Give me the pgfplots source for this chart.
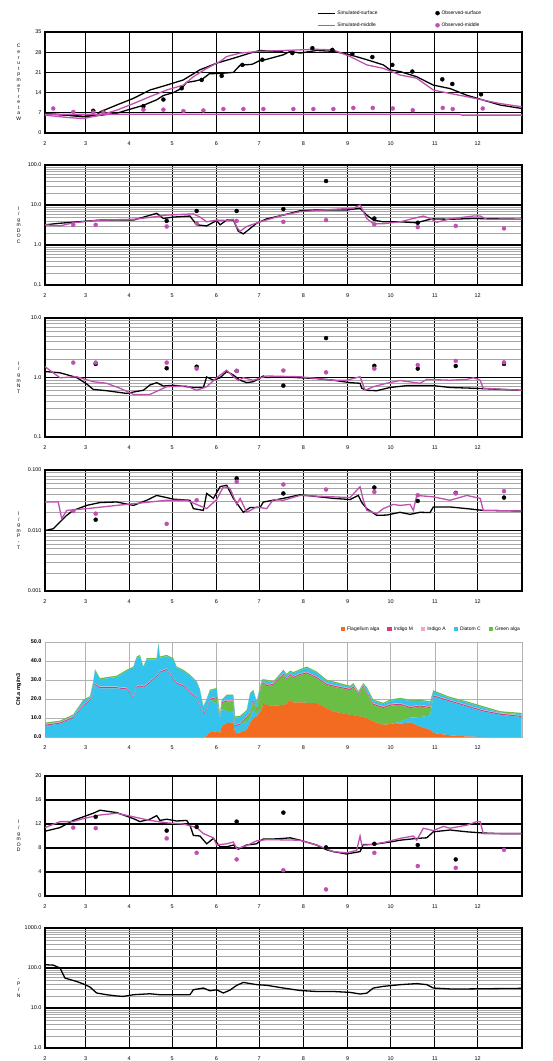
\documentclass[border=0pt]{standalone}
\usepackage{pgfplots}
\pgfplotsset{compat=1.18}
\usepackage{pgfplotstable}
\usepackage{fontspec}
\setmainfont{Liberation Sans}
\definecolor{mag}{HTML}{C050B0}
\definecolor{orC}{HTML}{F26B21}
\definecolor{cyC}{HTML}{33C3EC}
\definecolor{grC}{HTML}{6BBE45}
\definecolor{imC}{HTML}{D23C82}
\definecolor{iaC}{HTML}{F4A6C8}

\pgfplotstableread{
x O CL GL M A CU G
0 0 5.9 0 0.6 0.3 0.1 0.7
10.5 0 7.0 0 0.6 0.3 0.0 0.7
19.8 0 9.9 0 0.6 0.3 0.4 0.7
26.8 0 16.0 0 0.6 0.3 2.1 0.7
31.5 0 19.0 0 0.6 0.3 0.9 0.7
33.8 0 22.0 0 0.6 0.3 5.7 0.7
35.0 0 27.4 0 0.6 0.3 6.7 0.7
38.5 0 25.6 0 0.6 0.3 3.8 0.7
50.2 0 25.6 0 0.6 0.3 5.1 0.7
57.2 0 25.0 0 0.6 0.3 8.8 0.7
61.9 0 20.4 0 0.6 0.3 15.1 0.7
64.2 0 26.0 0 0.6 0.3 14.8 0.7
66.5 0 26.5 0 0.6 0.3 15.1 0.7
68.9 0 26.0 0 0.6 0.3 9.5 0.7
71.2 0 27.0 0 0.6 0.3 12.9 0.7
78.2 0 31.7 0 0.6 0.3 8.2 0.7
79.4 0 32.5 0 0.6 0.3 15.2 0.7
80.5 0 33.8 0 0.6 0.3 7.0 0.7
85.2 0 35.2 0 0.6 0.3 6.4 0.7
89.9 0 30.0 0 0.6 0.3 9.9 0.7
92.2 0 28.0 0 0.6 0.3 7.5 0.7
96.9 0 26.5 0 0.6 0.3 7.3 0.7
101.6 0 23.0 0 0.6 0.3 8.2 0.7
106.2 0 20.4 0 0.6 0.3 7.3 0.7
108.5 0 16.0 0 0.6 0.3 7.6 0.7
110.9 0 12.0 0 0.6 0.3 2.6 0.7
113.2 0.5 13.5 0 0.6 0.3 4.6 0.7
115.5 2.5 17.0 0 0.6 0.3 3.8 0.7
120.2 3.0 14.4 3.0 0.6 0.3 3.8 0.7
122.6 2.1 7.8 0 0.6 0.3 0.4 0.7
123.7 5.6 9.2 3.0 0.6 0.3 0.3 0.7
127.2 7.3 6.3 5.0 0.6 0.3 2.1 0.7
131.9 7.7 6.0 4.9 0.6 0.3 2.1 0.7
133.1 2.1 3.5 0 0.6 0.3 3.8 0.7
136.6 2.4 4.0 0 0.6 0.3 3.2 0.7
141.2 3.8 4.2 2.0 0.6 0.3 2.6 0.7
143.6 7.3 2.2 3.0 0.6 0.3 9.1 0.7
145.9 9.9 4.7 4.0 0.6 0.3 4.7 0.7
148.2 10.8 1.5 2.0 0.6 0.3 2.9 0.7
151.7 14.3 0 13.9 0.6 0.3 0.4 0.7
152.9 17.8 0 10.2 0.6 0.3 0.8 0.7
155.2 16.9 0 9.9 0.6 0.3 1.8 0.7
159.9 16.4 0 11.0 0.6 0.3 0.3 0.7
166.9 16.9 0 15.7 0.6 0.3 1.2 0.7
169.3 17.5 0 12.5 0.6 0.3 1.6 0.7
171.6 19.5 0 13.1 0.6 0.3 0.8 0.7
173.9 18.0 0 13.0 0.6 0.3 1.6 0.7
178.6 18.3 0 14.3 0.6 0.3 1.5 0.7
183.3 18.0 0 15.4 0.6 0.3 2.1 0.7
190.2 17.8 0 13.2 0.6 0.3 1.9 0.7
197.2 15.2 0 12.2 0.6 0.3 1.2 0.7
201.9 13.4 0 13.1 0.6 0.3 1.2 0.7
213.6 11.7 0 13.0 0.6 0.3 0.7 0.7
215.9 11.5 0 14.5 0.6 0.3 0.8 0.7
219.4 11.0 0 11.1 0.6 0.3 0.4 0.7
222.9 10.5 0 16.0 0.6 0.3 0.3 0.7
225.3 9.9 0 13.1 0.6 0.3 1.7 0.7
229.9 8.2 0 8.7 0.6 0.3 1.2 0.7
236.9 6.4 0 8.8 0.6 0.3 1.2 0.7
241.6 6.8 0 9.7 0.6 0.3 1.6 0.7
248.6 7.0 1.0 8.9 0.6 0.3 2.1 0.7
255.6 7.7 2.5 5.0 0.6 0.3 2.9 0.7
262.6 5.5 5.0 5.5 0.6 0.3 2.1 0.7
269.6 3.8 7.5 3.9 0.6 0.3 2.0 0.7
271.9 2.1 19.2 0 0.6 0.3 1.7 0.7
283.6 0.9 17.7 0 0.6 0.3 0.9 0.7
295.3 0.3 15.7 0 0.6 0.3 1.2 0.7
306.9 0 13.4 0 0.6 0.3 1.2 0.7
318.6 0 11.7 0 0.6 0.3 0.3 0.7
333.8 0 10.5 0 0.6 0.3 0.6 0.7
}\chl

\pgfplotsset{
  base/.style={
    scale only axis, width=477bp,
    xmin=0, xmax=334,
    xtick={0,28.4,59,89,120,150,181,212,242,273,303},
    xticklabels={2,3,4,5,6,7,8,9,10,11,12},
    tick label style={font=\fontsize{5.5}{6}\selectfont},
    xticklabel style={yshift=-5bp},
    tick style={draw=none},
    axis line style={black, line width=1.2bp},
    grid=major,
    major grid style={black, line width=1.1bp},
    minor grid style={gray!70, line width=0.6bp},
    ylabel style={at={(axis description cs:-0.055,0.5)}, anchor=center, rotate=-90, align=center, font=\fontsize{5}{5.6}\selectfont},
    /pgf/number format/assume math mode=true,
  },
  simS/.style={black, line width=1.3bp, no marks},
  simM/.style={mag, line width=1.3bp, no marks},
  obsS/.style={only marks, mark=*, mark size=2bp, black},
  obsM/.style={only marks, mark=*, mark size=2bp, mag},
}

\begin{document}
\begin{tikzpicture}
\useasboundingbox (0,0) rectangle (553bp,-1061bp);

% ---------------- Panel 1: water temperature
\begin{axis}[base, at={(45bp,-133bp)}, anchor=south west, height=101bp,
  ymin=0, ymax=35, ytick={0,7,14,21,28,35}, yticklabels={0,7,14,21,28,35},
  ylabel={C\\e\\r\\u\\t\\p\\m\\e\\T\\r\\e\\t\\a\\W},
  legend style={at={(axis description cs:0.57,1)}, anchor=south west, draw=none, fill=none,
    font=\fontsize{5}{6}\selectfont, row sep=3bp, inner sep=0pt, yshift=2bp},
  legend columns=2, legend cell align=left,
  legend style={/tikz/every even column/.append style={column sep=56bp}}]
\addplot[simS, forget plot] table {
0 6.7
15.2 6.2
26.8 5.6
36.2 6.2
38.5 7.3
50.2 9.7
61.9 12.0
73.5 14.9
85.2 16.6
96.9 18.4
108.5 21.9
120.2 24.2
131.9 25.9
143.6 27.7
150.6 28.6
159.9 28.3
166.9 28.3
};
\addplot[simS, forget plot] table {
0 6.7
26.8 5.8
36 6.0
50 6.8
57.2 7.9
68.9 9.6
78.2 11.5
82.9 13.0
89.9 14.0
95.7 15.5
99 17.5
105 18.0
110 18.6
115 20.5
124 20.7
131.9 21.0
136.6 23.5
145 23.8
150 25.0
155 25.5
166.9 27.1
171.6 28.3
178.6 27.7
190.2 28.6
201.9 28.3
213.6 27.1
225.3 25.4
236.9 23.6
241.6 21.9
248.6 21.3
260.3 19.5
271.9 16.6
283.6 15.4
295.3 13.1
306.9 11.4
318.6 9.7
333.8 8.5
};
\addplot[simM, forget plot] table {
0 6.2
15.2 5.4
26.8 5.0
38.5 6.2
50.2 7.9
61.9 10.2
73.5 12.6
85.2 14.9
96.9 16.6
103.9 19.5
113.2 22.4
122.6 24.8
127.2 26.5
136.6 27.7
150.6 28.3
166.9 28.6
178.6 28.8
190.2 29.0
201.9 28.8
213.6 26.5
225.3 23.6
236.9 22.4
248.6 20.1
260.3 19.0
271.9 14.9
283.6 13.7
295.3 12.6
306.9 11.4
318.6 10.2
333.8 9.1
};
\addplot[simM, forget plot] table {
0 6.5
290 6.5
292 6.2
334 6.2
};
\addplot[obsS, forget plot] table {
33.8 7.7
40.8 7.3
68.9 9.3
82.9 11.6
95.7 15.5
109.7 18.4
123.7 19.8
138.2 23.6
152.2 25.4
173.2 27.7
187.2 29.4
201.2 28.8
215.2 27.4
229.2 26.3
243.2 23.6
257.2 21.3
278.2 18.6
285.2 17.0
305.3 13.4
};
\addplot[obsM, forget plot] table {
5.8 8.5
19.8 7.3
33.8 7.1
40.8 7.1
68.9 8.1
82.9 8.1
96.9 7.6
110.9 7.8
124.9 8.3
138.9 8.3
152.9 8.3
173.9 8.3
187.9 8.3
201.9 8.3
215.9 8.7
229.5 8.7
243.5 8.5
257.5 7.9
278.5 8.7
285.5 8.3
306.5 8.5
};
\addlegendimage{simS}\addlegendentry{Simulated-surface}
\addlegendimage{obsS}\addlegendentry{Observed-surface}
\addlegendimage{simM}\addlegendentry{Simulated-middle}
\addlegendimage{obsM}\addlegendentry{Observed-middle}
\end{axis}

% ---------------- Panel 2: COD
\begin{axis}[base, at={(45bp,-285bp)}, anchor=south west, height=120bp,
  ymode=log, ymin=0.1, ymax=100, ytick={0.1,1,10,100}, yticklabels={0.1,1.0,10.0,100.0},
  minor ytick={0.2,0.3,0.4,0.5,0.6,0.7,0.8,0.9,2,3,4,5,6,7,8,9,20,30,40,50,60,70,80,90},
  yminorgrids=true,
  ylabel={l\\/\\g\\m\\D\\O\\C}]
\addplot[simS] table {
0 3.2
10.5 3.5
38.5 4.2
61.9 4.2
78.2 6.2
82.9 4.6
89.9 5.0
101.5 5.3
106.2 3.2
113.2 3.0
120.2 4.1
122.6 3.2
127.2 4.2
131.9 4.2
135.4 2.2
138.9 1.9
145.9 3.0
148.2 3.5
155.2 4.5
166.9 5.6
178.6 7.2
190.2 7.5
211.2 7.5
220.6 8.3
225.3 5.6
229.9 4.2
236.9 3.8
248.6 3.8
260.3 3.6
267.3 4.2
271.9 4.5
283.6 4.4
300.0 4.6
333.8 4.4
};
\addplot[simM] table {
0 3.2
10.5 3.0
19.8 3.6
38.5 4.2
61.9 4.4
73.5 4.9
85.2 5.6
103.9 6.0
108.5 5.0
113.2 3.8
120.2 4.2
127.2 4.1
131.9 4.4
134.2 2.8
136.6 2.2
141.2 2.9
150.6 3.8
166.9 5.6
178.6 6.8
201.9 7.8
215.9 8.3
220.6 10.0
225.3 4.6
229.9 3.4
236.9 3.4
248.6 3.8
257.9 4.6
264.9 5.3
269.6 4.6
274.3 3.7
283.6 4.5
300.0 5.3
304.7 5.3
309.4 4.4
333.8 4.4
};
\addplot[obsS] table {
85.2 4.0
106.2 7.1
134.2 7.1
166.9 7.9
196.8 39.8
230.6 4.6
261.0 3.6
};
\addplot[obsM] table {
19.8 3.2
35.5 3.2
85.2 2.9
106.2 3.5
134.2 4.0
166.9 3.8
196.8 4.2
230.6 3.3
261.0 2.8
287.6 3.0
321.4 2.6
};
\end{axis}

% ---------------- Panel 3: T-N
\begin{axis}[base, at={(45bp,-437bp)}, anchor=south west, height=119bp,
  ymode=log, ymin=0.1, ymax=10, ytick={0.1,1,10}, yticklabels={0.1,1.0,10.0},
  minor ytick={0.2,0.3,0.4,0.5,0.6,0.7,0.8,0.9,2,3,4,5,6,7,8,9},
  yminorgrids=true,
  ylabel={l\\/\\g\\m\\N\\T}]
\addplot[simS] table {
0 1.26
10.5 1.2
22.2 1.0
29.2 0.78
33.8 0.63
43.2 0.60
57.2 0.54
61.9 0.57
68.9 0.61
73.5 0.75
78.2 0.82
82.9 0.72
89.9 0.74
99.2 0.70
103.9 0.68
110.9 0.68
113.2 1.02
117.9 0.90
122.6 0.99
127.2 1.26
131.9 1.10
136.6 0.90
141.2 0.82
145.9 0.85
152.9 1.06
155.2 1.0
166.9 1.03
178.6 0.99
190.2 0.96
201.9 0.90
213.6 0.82
220.6 0.80
221.8 0.66
225.3 0.61
232.3 0.60
241.6 0.68
253.3 0.73
271.9 0.73
283.6 0.68
300.0 0.66
333.8 0.61
};
\addplot[simM] table {
0 1.52
10.5 0.99
22.2 1.03
33.8 0.85
43.2 0.80
52.5 0.66
61.9 0.52
73.5 0.52
85.2 0.70
99.2 0.72
106.2 0.61
113.2 0.70
120.2 0.99
127.2 1.33
131.9 1.03
135.4 0.89
138.9 0.99
145.9 0.90
155.2 1.06
178.6 1.03
201.9 0.90
211.2 0.90
220.6 1.03
224.1 0.61
229.9 0.70
239.2 0.80
248.6 0.89
262.6 0.80
267.3 0.93
283.6 0.90
295.3 0.93
300.0 0.99
304.7 0.90
306.9 0.66
333.8 0.61
};
\addplot[obsS] table {
35.5 1.69
85.2 1.43
106.2 1.52
134.2 1.29
166.9 0.73
196.8 4.6
230.6 1.57
261.0 1.41
287.6 1.56
321.4 1.69
};
\addplot[obsM] table {
19.8 1.78
35.5 1.78
85.2 1.78
106.2 1.41
134.2 1.29
166.9 1.31
196.8 1.22
230.6 1.41
261.0 1.62
287.6 1.9
321.4 1.8
};
\end{axis}

% ---------------- Panel 4: T-P
\begin{axis}[base, at={(45bp,-591bp)}, anchor=south west, height=121bp,
  ymode=log, ymin=0.001, ymax=0.1, ytick={0.001,0.01,0.1}, yticklabels={0.001,0.010,0.100},
  minor ytick={0.002,0.003,0.004,0.005,0.006,0.007,0.008,0.009,0.02,0.03,0.04,0.05,0.06,0.07,0.08,0.09},
  yminorgrids=true,
  ylabel={l\\/\\g\\m\\P\\-\\T}]
\addplot[simS] table {
0 0.0100
5.8 0.0107
10.5 0.0138
15.2 0.0178
19.8 0.0215
29.2 0.026
38.5 0.029
50.2 0.0296
61.9 0.026
71.2 0.0316
78.2 0.038
85.2 0.035
89.9 0.033
101.5 0.0316
103.9 0.023
110.9 0.0215
113.2 0.041
117.9 0.034
122.6 0.053
127.2 0.056
131.9 0.034
138.9 0.020
143.6 0.024
150.6 0.024
152.9 0.0296
159.9 0.0316
166.9 0.034
178.6 0.039
201.9 0.034
213.6 0.0325
219.4 0.038
221.8 0.029
225.3 0.023
232.3 0.0178
239.2 0.018
248.6 0.020
255.6 0.0185
262.6 0.020
269.6 0.0198
271.9 0.0245
283.6 0.0245
295.3 0.023
306.9 0.0215
333.8 0.021
};
\addplot[simM] table {
0 0.0296
9.3 0.0296
11.7 0.0156
15.2 0.0215
29.2 0.023
50.2 0.026
73.5 0.0296
85.2 0.0316
99.2 0.0316
113.2 0.023
120.2 0.0325
124.9 0.053
129.5 0.050
134.2 0.027
136.6 0.034
141.2 0.020
148.2 0.0245
155.2 0.023
159.9 0.0325
166.9 0.0316
178.6 0.038
201.9 0.036
213.6 0.035
220.6 0.053
222.9 0.0316
225.3 0.0215
232.3 0.019
236.9 0.023
243.9 0.027
248.6 0.026
255.6 0.027
257.9 0.0215
260.3 0.038
271.9 0.036
283.6 0.0316
295.3 0.038
304.7 0.034
306.9 0.0215
333.8 0.021
};
\addplot[obsS] table {
35.5 0.0151
134.2 0.0726
166.9 0.041
230.6 0.0514
261.0 0.0308
287.6 0.0419
321.4 0.035
};
\addplot[obsM] table {
19.8 0.021
35.5 0.019
85.2 0.0129
106.2 0.0316
134.2 0.064
166.9 0.0577
196.8 0.0476
230.6 0.0435
261.0 0.0383
287.6 0.041
321.4 0.0447
};
\end{axis}

% ---------------- Panel 5: Chl-a stacked
\begin{axis}[base, at={(45bp,-737bp)}, anchor=south west, height=95bp,
  ymin=0, ymax=50, ytick={0,10,20,30,40,50}, yticklabels={0.0,10.0,20.0,30.0,40.0,50.0},
  yticklabel style={font=\fontsize{5.5}{6}\selectfont\bfseries},
  axis line style={gray!60, line width=0.6bp},
  major grid style={gray!60, line width=0.6bp},
  stack plots=y,
  ylabel={Chl.a mg/m3}, ylabel style={rotate=90, font=\fontsize{5.5}{6}\selectfont\bfseries},
  legend style={at={(axis description cs:1,1)}, anchor=south east, draw=none, fill=none,
    font=\fontsize{5}{6}\selectfont, inner sep=0pt, yshift=8bp},
  legend columns=-1,
  legend style={/tikz/every even column/.append style={column sep=6bp}},
  legend image code/.code={\fill[#1, draw=none] (0bp,-2.2bp) rectangle (4.4bp,2.2bp);}]
\addplot[fill=orC, draw=none, forget plot] table[x=x, y=O] {\chl} \closedcycle;
\addplot[fill=cyC, draw=none, forget plot] table[x=x, y=CL] {\chl} \closedcycle;
\addplot[fill=grC, draw=none, forget plot] table[x=x, y=GL] {\chl} \closedcycle;
\addplot[fill=imC, draw=none, forget plot] table[x=x, y=M] {\chl} \closedcycle;
\addplot[fill=iaC, draw=none, forget plot] table[x=x, y=A] {\chl} \closedcycle;
\addplot[fill=cyC, draw=none, forget plot] table[x=x, y=CU] {\chl} \closedcycle;
\addplot[fill=grC, draw=none, forget plot] table[x=x, y=G] {\chl} \closedcycle;
\addlegendimage{fill=orC}\addlegendentry{Flagellum alga}
\addlegendimage{fill=imC}\addlegendentry{Indigo M}
\addlegendimage{fill=iaC}\addlegendentry{Indigo A}
\addlegendimage{fill=cyC}\addlegendentry{Diatom C}
\addlegendimage{fill=grC}\addlegendentry{Green alga}
\end{axis}

% ---------------- Panel 6: DO
\begin{axis}[base, at={(45bp,-896bp)}, anchor=south west, height=120bp,
  ymin=0, ymax=20, ytick={0,4,8,12,16,20}, yticklabels={0,4,8,12,16,20},
  ylabel={l\\/\\g\\m\\O\\D}]
\addplot[simS] table {
0 10.8
10.5 11.4
19.8 12.6
26.8 13.2
33.8 13.8
38.5 14.3
50.2 13.9
61.9 12.9
66.5 12.4
73.5 12.8
78.2 13.4
80.5 12.6
85.2 12.8
92.2 12.5
99.2 12.6
101.5 11.8
103.9 10.1
108.5 10.0
113.2 8.7
117.9 9.6
122.6 8.2
127.2 8.2
131.9 8.5
135.4 7.8
141.2 8.5
148.2 8.7
150.6 9.2
152.9 9.5
159.9 9.5
166.9 9.6
171.6 9.7
178.6 9.3
190.2 8.5
197.2 7.7
201.9 7.4
211.2 7.0
220.6 7.4
222.9 8.6
229.9 8.6
241.6 9.0
248.6 9.3
260.3 9.6
267.3 9.7
271.9 10.7
283.6 11.0
295.3 10.7
306.9 10.5
318.6 10.4
333.8 10.4
};
\addplot[simM] table {
0 11.4
10.5 12.4
19.8 12.4
26.8 12.9
38.5 13.5
50.2 13.8
61.9 13.2
73.5 12.6
85.2 12.2
96.9 12.0
106.2 11.4
110.9 10.4
117.9 9.7
120.2 8.5
127.2 8.7
131.9 9.0
134.2 7.9
141.2 8.4
148.2 9.2
155.2 9.4
178.6 9.3
190.2 8.5
201.9 7.4
211.2 7.2
218.2 7.6
220.6 10.0
221.8 8.5
225.3 8.5
236.9 8.9
248.6 9.6
257.9 10.0
260.3 9.3
264.9 11.3
271.9 10.9
278.9 11.6
283.6 11.3
295.3 11.8
302.3 12.4
304.7 12.4
306.9 10.4
333.8 10.4
};
\addplot[obsS] table {
35.5 13.2
85.2 10.9
106.2 11.5
134.2 12.4
166.9 13.9
196.8 8.1
230.6 8.7
261.0 8.5
287.6 6.1
};
\addplot[obsM] table {
19.8 11.4
35.5 11.3
85.2 9.6
106.2 7.2
134.2 6.1
166.9 4.3
196.8 1.1
230.6 7.2
261.0 5.0
287.6 4.7
321.4 7.7
};
\end{axis}

% ---------------- Panel 7: N/P
\begin{axis}[base, at={(45bp,-1048bp)}, anchor=south west, height=120bp,
  ymode=log, ymin=1, ymax=1000, ytick={1,10,100,1000}, yticklabels={1.0,10.0,100.0,1000.0},
  minor ytick={2,3,4,5,6,7,8,9,20,30,40,50,60,70,80,90,200,300,400,500,600,700,800,900},
  yminorgrids=true,
  ylabel={-\\P\\/\\N}]
\addplot[simS] table {
0 121
5.8 118
10.5 100
14 56
22.2 46
26.8 40
31.5 33.5
36.2 23.7
43.2 21.5
50.2 20
54.9 19.5
61.9 21.5
73.5 22.7
80.5 21.5
89.9 21.5
101.5 21.5
103.9 28.7
110.9 31.6
115.5 27
120.2 28.5
124.9 23.7
129.5 28
134.2 36.8
138.9 43.6
148.2 38.4
155.2 37
166.9 31.6
178.6 27.4
190.2 25.9
201.9 25.9
213.6 24.6
220.6 22.4
225.3 23.5
229.9 31.6
236.9 34.8
248.6 38.3
260.3 40.8
267.3 38.4
271.9 31.6
283.6 30
295.3 30
333.8 31
};
\end{axis}
\end{tikzpicture}
\end{document}
